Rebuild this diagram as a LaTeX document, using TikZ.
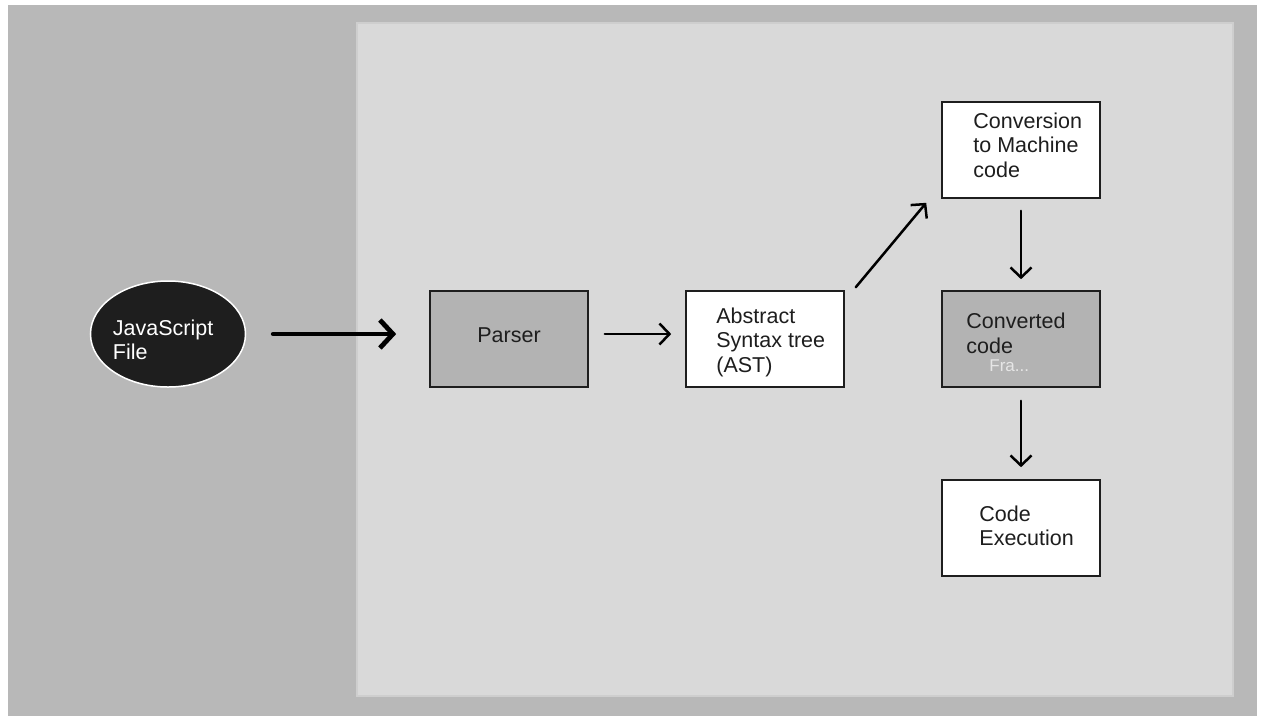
\documentclass[tikz,border=0pt]{standalone}
\usepackage{fontspec}
\setmainfont{Liberation Sans}
\usetikzlibrary{positioning,arrows.meta,shapes.geometric}
\definecolor{outergray}{HTML}{B8B8B8}
\definecolor{panelgray}{HTML}{D9D9D9}
\definecolor{panelline}{HTML}{CECECE}
\definecolor{boxgray}{HTML}{B3B3B3}
\definecolor{ink}{HTML}{1E1E1E}
\definecolor{faint}{HTML}{E6E6E6}

\begin{document}
\begin{tikzpicture}[x=1pt, y=-1pt,
    every node/.style={font=\fontsize{21.5}{24.5}\selectfont, text=ink},
    box/.style={draw=ink, line width=1.6pt, minimum width=158pt, minimum height=96pt,
                inner sep=0pt, fill=white},
    graybox/.style={box, fill=boxgray},
    lbl/.style={align=left, inner sep=0pt},
    arr/.style={-{Straight Barb[length=10pt,width=21pt]}, line width=2.5pt, line cap=round},
    bigarr/.style={-{Straight Barb[length=13pt,width=28pt]}, line width=4.8pt, line cap=round},
]
  \useasboundingbox (0,0) rectangle (1264,716);
  % Backgrounds
  \fill[white] (0,0) rectangle (1264,716);
  \fill[outergray] (8,5) rectangle (1257,716);
  \filldraw[fill=panelgray, draw=panelline, line width=1.5pt] (357,23) rectangle (1233,696);
  % Input file
  \node[ellipse, fill=ink, draw=white, line width=1.5pt, minimum width=155pt,
        minimum height=106pt] (js) at (168,334) {};
  % Pipeline boxes
  \node[graybox] (parser) at (509,339) {};
  \node[box] (ast) at (765,339) {};
  \node[box] (conv) at (1021,150) {};
  \node[graybox] (done) at (1021,339) {};
  \node[box] (exec) at (1021,528) {};
  % Texts
  \node[lbl, right=23pt of js.west, yshift=-6pt, text=white] (js-txt) {JavaScript\\File};
  \node[lbl, yshift=4pt] (parser-txt) at (parser.center) {Parser};
  \node[lbl, right=31pt of ast.west, yshift=-3pt] (ast-txt) {Abstract\\Syntax tree\\(AST)};
  \node[lbl, right=32pt of conv.west, yshift=5pt] (conv-txt) {Conversion\\to Machine\\code};
  \node[lbl, right=25pt of done.west, yshift=5.5pt] (done-txt) {Converted\\code};
  \node[lbl, right=48pt of done.west, yshift=-27pt, text=faint,
        font=\fontsize{17}{20}\selectfont] (done-tag) {Fra...};
  \node[lbl, right=38pt of exec.west, yshift=2pt] (exec-txt) {Code\\Execution};
  % Arrows
  \draw[bigarr, shorten <=27pt, shorten >=33pt] (js.east) -- (js.east -| parser.west);
  \draw[arr, shorten <=16pt, shorten >=14pt] ([yshift=5pt]parser.east) -- ([yshift=5pt]ast.west);
  \draw[arr] ([shift={(11,-3)}]ast.north east) -- ([shift={(-15,4)}]conv.south west);
  \draw[arr, shorten <=12pt, shorten >=11pt] (conv.south) -- (done.north);
  \draw[arr, shorten <=13pt, shorten >=12pt] (done.south) -- (exec.north);
\end{tikzpicture}
\end{document}
